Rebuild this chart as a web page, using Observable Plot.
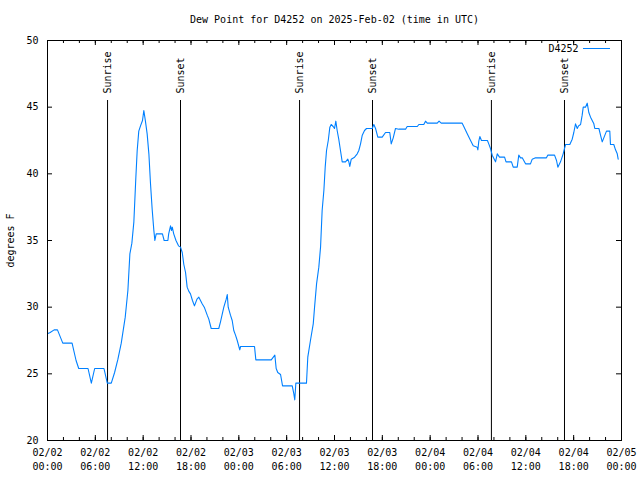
<!DOCTYPE html>
<html><head><meta charset="utf-8">
<script src="https://cdn.jsdelivr.net/npm/d3@7"></script>
<script src="https://cdn.jsdelivr.net/npm/@observablehq/plot@0.6"></script>
<style>body{margin:0;background:#fff} svg{display:block}</style>
</head><body><div id="chart"></div>
<script>
const title = "Dew Point for D4252 on 2025-Feb-02 (time in UTC)";
const seriesName = "D4252";
const yLabel = "degrees F";

const times = [
"2025-02-02T00:00","2025-02-02T00:20","2025-02-02T00:50","2025-02-02T01:15","2025-02-02T01:55","2025-02-02T03:05","2025-02-02T03:35","2025-02-02T03:55",
"2025-02-02T05:05","2025-02-02T05:30","2025-02-02T05:55","2025-02-02T07:05","2025-02-02T07:30","2025-02-02T08:00","2025-02-02T08:25","2025-02-02T08:50",
"2025-02-02T09:15","2025-02-02T09:45","2025-02-02T10:05","2025-02-02T10:20","2025-02-02T10:35","2025-02-02T10:50","2025-02-02T11:05","2025-02-02T11:15",
"2025-02-02T11:27","2025-02-02T11:40","2025-02-02T11:55","2025-02-02T12:05","2025-02-02T12:17","2025-02-02T12:30","2025-02-02T12:43","2025-02-02T12:55",
"2025-02-02T13:08","2025-02-02T13:20","2025-02-02T13:28","2025-02-02T13:38","2025-02-02T14:25","2025-02-02T14:38","2025-02-02T15:06","2025-02-02T15:12",
"2025-02-02T15:26","2025-02-02T15:33","2025-02-02T15:39","2025-02-02T15:50","2025-02-02T16:07","2025-02-02T16:26","2025-02-02T16:41","2025-02-02T16:54",
"2025-02-02T17:06","2025-02-02T17:19","2025-02-02T17:31","2025-02-02T17:43","2025-02-02T17:56","2025-02-02T18:11","2025-02-02T18:26","2025-02-02T18:45",
"2025-02-02T18:59","2025-02-02T19:24","2025-02-02T19:42","2025-02-02T20:02","2025-02-02T20:14","2025-02-02T20:32","2025-02-02T21:29","2025-02-02T21:42",
"2025-02-02T22:07","2025-02-02T22:25","2025-02-02T22:33","2025-02-02T22:40","2025-02-02T22:57","2025-02-02T23:10","2025-02-02T23:22","2025-02-02T23:35",
"2025-02-02T23:48","2025-02-03T00:07","2025-02-03T00:13","2025-02-03T01:58","2025-02-03T02:08","2025-02-03T04:04","2025-02-03T04:31","2025-02-03T04:41",
"2025-02-03T04:53","2025-02-03T05:14","2025-02-03T05:29","2025-02-03T06:42","2025-02-03T06:54","2025-02-03T07:01","2025-02-03T07:09","2025-02-03T08:29",
"2025-02-03T08:39","2025-02-03T08:59","2025-02-03T09:20","2025-02-03T09:30","2025-02-03T09:45","2025-02-03T10:02","2025-02-03T10:15","2025-02-03T10:27",
"2025-02-03T10:40","2025-02-03T10:50","2025-02-03T11:00","2025-02-03T11:13","2025-02-03T11:25","2025-02-03T11:35","2025-02-03T11:50","2025-02-03T12:00",
"2025-02-03T12:10","2025-02-03T12:20","2025-02-03T12:32","2025-02-03T12:45","2025-02-03T12:58","2025-02-03T13:23","2025-02-03T13:40","2025-02-03T13:48",
"2025-02-03T13:55","2025-02-03T14:06","2025-02-03T14:31","2025-02-03T14:51","2025-02-03T15:03","2025-02-03T15:16","2025-02-03T15:29","2025-02-03T15:46",
"2025-02-03T16:01","2025-02-03T16:44","2025-02-03T16:56","2025-02-03T17:09","2025-02-03T17:26","2025-02-03T17:59","2025-02-03T18:24","2025-02-03T18:56",
"2025-02-03T19:07","2025-02-03T19:22","2025-02-03T19:39","2025-02-03T20:04","2025-02-03T20:55","2025-02-03T21:07","2025-02-03T22:23","2025-02-03T22:35",
"2025-02-03T23:12","2025-02-03T23:25","2025-02-03T23:38","2025-02-04T00:53","2025-02-04T01:07","2025-02-04T01:23","2025-02-04T04:01","2025-02-04T04:13",
"2025-02-04T04:39","2025-02-04T05:04","2025-02-04T05:24","2025-02-04T05:54","2025-02-04T05:59","2025-02-04T06:06","2025-02-04T06:14","2025-02-04T06:26",
"2025-02-04T07:11","2025-02-04T07:21","2025-02-04T07:34","2025-02-04T07:47","2025-02-04T08:12","2025-02-04T08:25","2025-02-04T08:42","2025-02-04T09:20",
"2025-02-04T09:31","2025-02-04T10:12","2025-02-04T10:25","2025-02-04T10:55","2025-02-04T11:07","2025-02-04T11:20","2025-02-04T11:33","2025-02-04T11:58",
"2025-02-04T12:35","2025-02-04T12:48","2025-02-04T13:13","2025-02-04T14:35","2025-02-04T14:45","2025-02-04T15:36","2025-02-04T15:51","2025-02-04T16:01",
"2025-02-04T16:21","2025-02-04T16:41","2025-02-04T16:51","2025-02-04T16:59","2025-02-04T17:31","2025-02-04T17:49","2025-02-04T18:01","2025-02-04T18:14",
"2025-02-04T18:27","2025-02-04T18:37","2025-02-04T18:52","2025-02-04T19:04","2025-02-04T19:12","2025-02-04T19:29","2025-02-04T19:42","2025-02-04T19:54",
"2025-02-04T20:07","2025-02-04T20:32","2025-02-04T20:39","2025-02-04T21:10","2025-02-04T21:22","2025-02-04T21:35","2025-02-04T21:55","2025-02-04T22:07",
"2025-02-04T22:32","2025-02-04T22:37","2025-02-04T23:02","2025-02-04T23:15","2025-02-04T23:28","2025-02-04T23:35"
];
const dewpoint = [
28.0,28.1,28.3,28.3,27.3,27.3,26.0,25.4,
25.4,24.3,25.4,25.4,24.3,24.3,25.1,26.1,
27.3,29.25,31.25,34.0,34.8,36.4,39.75,41.75,
43.2,43.6,44.0,44.75,43.95,43.0,41.5,39.3,
37.3,35.8,35.0,35.5,35.5,35.0,35.0,35.5,
36.1,35.75,36.0,35.5,35.0,34.6,34.5,34.1,
33.2,32.6,31.5,31.2,31.0,30.5,30.1,30.6,
30.75,30.25,29.95,29.4,29.1,28.4,28.4,28.9,
30.0,30.6,30.95,30.0,29.4,29.0,28.25,27.9,
27.5,26.8,27.05,27.05,26.05,26.05,26.4,25.4,
25.1,24.95,24.1,24.1,23.5,23.05,24.3,24.3,
26.25,27.5,28.75,30.0,31.75,33.0,34.5,37.25,
38.75,40.5,41.75,42.5,43.5,43.7,43.55,43.4,
43.95,43.25,42.6,41.75,40.9,40.9,41.1,40.9,
40.55,41.1,41.25,41.5,41.75,42.25,42.9,43.25,
43.4,43.4,43.7,43.4,42.75,42.75,43.1,43.1,
42.25,42.7,43.4,43.35,43.35,43.55,43.55,43.7,
43.7,43.95,43.8,43.8,43.95,43.8,43.8,43.55,
43.0,42.5,42.1,42.0,41.8,42.45,42.8,42.5,
42.5,42.25,41.9,41.4,40.9,41.5,41.25,41.25,
40.9,40.9,40.5,40.5,41.4,41.2,41.2,40.75,
40.75,41.1,41.2,41.2,41.4,41.4,41.0,40.5,
40.9,41.5,41.9,42.2,42.2,42.6,43.1,43.75,
43.4,43.6,43.7,44.4,45.0,45.0,45.3,44.6,
44.25,43.75,43.4,43.4,42.9,42.4,42.9,43.2,
43.2,42.2,42.2,41.8,41.5,41.1
];

const sunTimes = ["2025-02-02T07:32","2025-02-02T16:41","2025-02-03T07:37","2025-02-03T16:46","2025-02-04T07:41","2025-02-04T16:51"];
const sunLabels = ["Sunrise","Sunset","Sunrise","Sunset","Sunrise","Sunset"];

const xTicks = ["2025-02-02T00:00","2025-02-02T06:00","2025-02-02T12:00","2025-02-02T18:00","2025-02-03T00:00","2025-02-03T06:00","2025-02-03T12:00","2025-02-03T18:00","2025-02-04T00:00","2025-02-04T06:00","2025-02-04T12:00","2025-02-04T18:00","2025-02-05T00:00"];
const yTicks = [20, 25, 30, 35, 40, 45, 50];

const parse = s => new Date(s + ":00Z");
const data = times.map((t, i) => ({time: parse(t), value: dewpoint[i]}));
const sun = sunTimes.map((t, i) => ({time: parse(t), label: sunLabels[i]}));
const majorTicks = xTicks.map(parse);
const xDomain = [majorTicks[0], majorTicks[majorTicks.length - 1]];
const minorTicks = d3.utcHour.every(2).range(xDomain[0], xDomain[1]);
const fmt = d3.utcFormat("%m/%d\n%H:%M");

const legendLine = (index, scales, values, dims) => {
  const x2 = dims.width - dims.marginRight - 11;
  const y = dims.marginTop + 8.5;
  return d3.create("svg:line")
    .attr("x1", x2 - 27).attr("x2", x2).attr("y1", y).attr("y2", y)
    .attr("stroke", "#0080ff").attr("stroke-width", 1).node();
};

const plot = Plot.plot({
  width: 640, height: 480,
  marginTop: 40, marginBottom: 40, marginLeft: 47, marginRight: 19,
  style: {fontFamily: "'DejaVu Sans Mono', monospace", fontSize: "10px", background: "#fff", color: "#000"},
  x: {type: "utc", domain: xDomain},
  y: {domain: [20, 50]},
  marks: [
    Plot.axisX(majorTicks, {tickSize: 0, tickPadding: 6, tickFormat: fmt, lineHeight: 1.35, label: null}),
    Plot.axisY(yTicks, {tickSize: 0, tickPadding: 9, label: yLabel, labelAnchor: "center", labelArrow: "none", labelOffset: 41}),
    Plot.tickX(majorTicks, {x: d => d, insetTop: 395, stroke: "#000"}),
    Plot.tickX(majorTicks, {x: d => d, insetBottom: 395, stroke: "#000"}),
    Plot.tickX(minorTicks, {x: d => d, insetTop: 397, stroke: "#000"}),
    Plot.tickX(minorTicks, {x: d => d, insetBottom: 397, stroke: "#000"}),
    Plot.tickY(yTicks, {y: d => d, insetRight: 569, stroke: "#000"}),
    Plot.tickY(yTicks, {y: d => d, insetLeft: 569, stroke: "#000"}),
    Plot.ruleX(sun, {x: "time", insetTop: 60, stroke: "#000"}),
    Plot.text(sun, {x: "time", text: "label", rotate: -90, frameAnchor: "top", textAnchor: "start", lineAnchor: "middle", dy: 53, fill: "#000"}),
    Plot.line(data, {x: "time", y: "value", stroke: "#0080ff", strokeWidth: 1.1}),
    Plot.frame({stroke: "#000"}),
    Plot.text([title], {text: d => d, frameAnchor: "top", dy: -21, lineAnchor: "middle", fill: "#000"}),
    Plot.text([seriesName], {text: d => d, frameAnchor: "top-right", textAnchor: "end", lineAnchor: "middle", dx: -43, dy: 8, fill: "#000"}),
    legendLine
  ]
});
document.getElementById("chart").append(plot);
</script>
</body></html>
